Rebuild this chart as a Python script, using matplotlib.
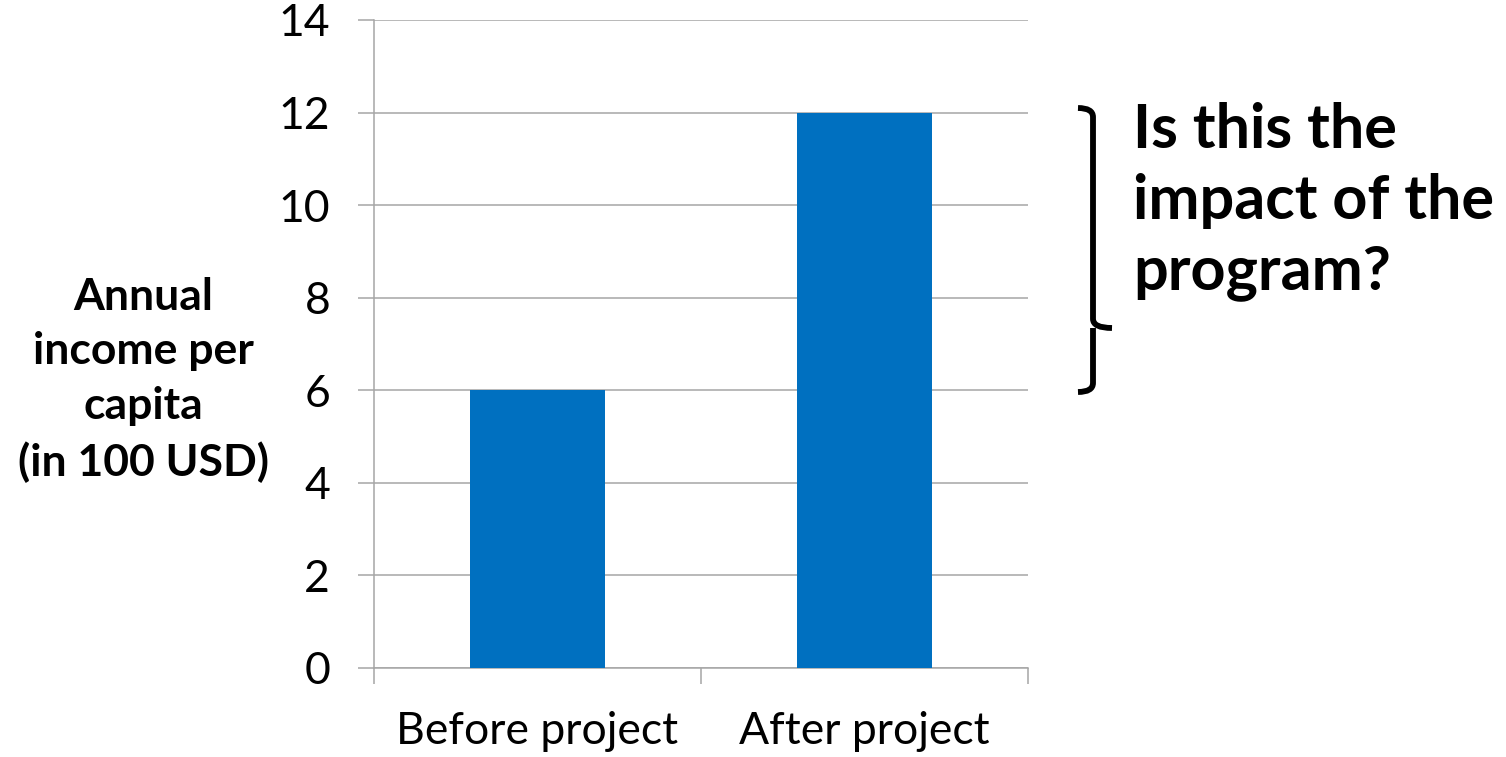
import matplotlib
matplotlib.use("Agg")
import matplotlib.pyplot as plt
from matplotlib.path import Path
from matplotlib.patches import PathPatch

plt.rcParams["font.family"] = ["Lato", "DejaVu Sans"]

categories = ["Before project", "After project"]
income = [6, 12]
y_ticks = [0, 2, 4, 6, 8, 10, 12, 14]
y_label = "Annual\nincome per\ncapita\n(in 100 USD)"
question = "Is this the\nimpact of the\nprogram?"

grey = "#a6a6a6"
blue = "#0070c0"

fig = plt.figure(figsize=(15.06, 7.57), dpi=100)
ax = fig.add_axes([374 / 1506, 1 - 668 / 757, 654 / 1506, 648 / 757])

x = range(len(categories))
ax.bar(x, income, width=0.41, color=blue, zorder=3)
ax.set_xlim(-0.5, len(categories) - 0.5)
ax.set_ylim(0, 14)
ax.set_yticks(y_ticks)
ax.set_yticklabels([str(v) for v in y_ticks], fontsize=32)

# category labels sit between the boundary ticks
ax.set_xticks([-0.5, 0.5, 1.5])
ax.set_xticklabels([])
ax.set_xticks(list(x), minor=True)
ax.set_xticklabels(categories, minor=True, fontsize=32)
ax.tick_params(axis="x", which="major", length=11.5, width=1.1, color=grey, direction="out")
ax.tick_params(axis="x", which="minor", length=0, pad=31)
ax.tick_params(axis="y", length=11.5, width=1.1, color=grey, pad=20)

ax.grid(axis="y", color=grey, linewidth=1.1, zorder=0)
for side in ["top", "right"]:
    ax.spines[side].set_visible(False)
for side in ["left", "bottom"]:
    ax.spines[side].set_color(grey)
    ax.spines[side].set_linewidth(1.1)

fig.text(143 / 1506, 1 - 380 / 757, y_label, ha="center", va="center",
         fontsize=32, fontweight="bold", linespacing=1.45)

# right-hand curly brace spanning the gap between the bars
bx0, bx1, bx2 = 1078 / 1506, 1093 / 1506, 1112 / 1506
yt, ym, yb = 1 - 108 / 757, 1 - 328 / 757, 1 - 392 / 757
r = 0.012
verts = [
    (bx0, yt), (bx1, yt), (bx1, yt - r),
    (bx1, ym + r),
    (bx1, ym), (bx2, ym),
    (bx1, ym), (bx1, ym - r),
    (bx1, yb + r),
    (bx1, yb), (bx0, yb),
]
codes = [Path.MOVETO, Path.CURVE3, Path.CURVE3,
         Path.LINETO,
         Path.CURVE3, Path.CURVE3,
         Path.MOVETO, Path.CURVE3,
         Path.LINETO,
         Path.CURVE3, Path.CURVE3]
fig.add_artist(PathPatch(Path(verts, codes), transform=fig.transFigure,
                         facecolor="none", edgecolor="black", linewidth=4.2,
                         capstyle="butt", joinstyle="round"))

fig.text(1133 / 1506, 1 - 102 / 757, question, ha="left", va="top",
         fontsize=44, fontweight="bold", linespacing=1.32)

fig.savefig("out.png", dpi=100)
